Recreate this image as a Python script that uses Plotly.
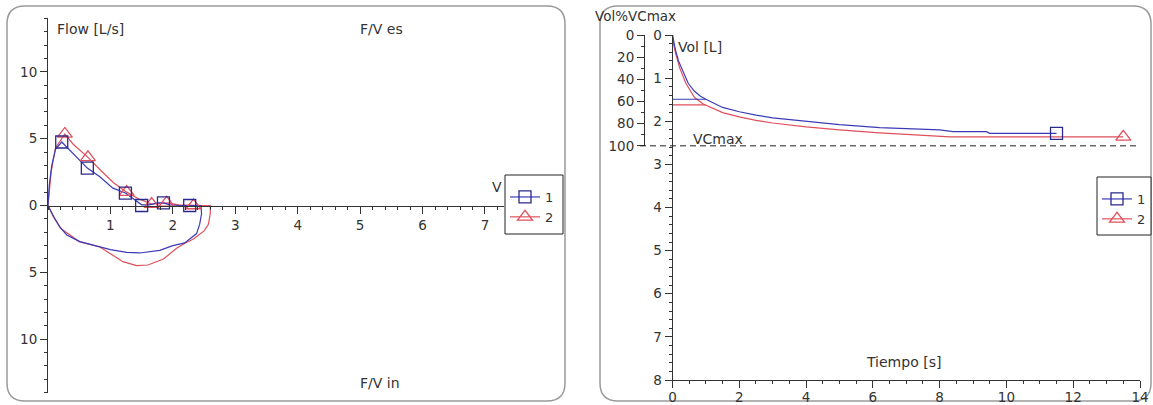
import plotly.graph_objects as go

W, H = 1153, 405

# ---------------- data: left panel (flow / volume loops) ----------------
# series 1 (blue) expiratory + inspiratory loop, volume [L] vs flow [L/s] (inspiration negative)
fv1_vol = [0.0, 0.02, 0.06, 0.12, 0.22, 0.35, 0.51, 0.63, 0.83, 1.04, 1.24, 1.40, 1.50, 1.62, 1.75,
           1.85, 1.95, 2.10, 2.27, 2.45, 2.46, 2.43, 2.38, 2.19, 2.00, 1.79, 1.47, 1.26, 1.00,
           0.83, 0.51, 0.30, 0.19, 0.10, 0.04, 0.0]
fv1_flow = [0.0, 1.5, 3.0, 4.2, 4.75, 4.15, 3.4, 2.8, 2.15, 1.3, 0.93, 0.35, 0.05, 0.05, 0.2,
            0.2, 0.05, 0.0, 0.0, 0.0, -0.6, -1.4, -2.1, -2.8, -3.0, -3.35, -3.55, -3.5, -3.3,
            -3.1, -2.7, -2.2, -1.6, -0.9, -0.4, 0.0]
# series 2 (red)
fv2_vol = [0.0, 0.05, 0.12, 0.27, 0.40, 0.64, 0.85, 1.05, 1.26, 1.45, 1.66, 1.80, 1.90, 2.10,
           2.33, 2.50, 2.60, 2.60, 2.57, 2.50, 2.33, 2.20, 2.06, 1.85, 1.60, 1.42, 1.20, 1.00,
           0.83, 0.50, 0.20, 0.08, 0.0]
fv2_flow = [0.0, 2.5, 4.3, 5.35, 4.6, 3.6, 2.6, 1.7, 1.0, 0.5, 0.1, 0.15, 0.2, 0.05,
            0.0, 0.0, 0.0, -0.6, -1.4, -1.9, -2.5, -2.8, -3.2, -4.0, -4.45, -4.5, -4.2, -3.6,
            -3.1, -2.7, -1.7, -0.8, 0.0]
# marker samples on the curves
fv1_mk_vol = [0.22, 0.63, 1.24, 1.50, 1.85, 2.27]
fv1_mk_flow = [4.75, 2.8, 0.93, 0.0, 0.2, 0.0]
fv2_mk_vol = [0.27, 0.64, 1.26, 1.66, 1.90, 2.33]
fv2_mk_flow = [5.35, 3.6, 1.0, 0.1, 0.2, 0.0]

flow_tickvals = [-10, -5, 0, 5, 10]
flow_ticktext = ["10", "5", "0", "5", "10"]
vol_tickvals = [1, 2, 3, 4, 5, 6, 7]

# ---------------- data: right panel (volume / time) ----------------
vt1_t = [0.0, 0.03, 0.09, 0.18, 0.29, 0.47, 0.65, 0.84, 1.0, 1.5, 2.0, 2.5, 3.0, 4.0, 5.0,
         6.2, 7.0, 8.0, 8.4, 9.4, 9.5, 11.5]
vt1_vol = [0.0, 0.15, 0.35, 0.6, 0.8, 1.12, 1.3, 1.42, 1.49, 1.68, 1.78, 1.86, 1.92, 2.0, 2.08,
           2.15, 2.18, 2.2, 2.24, 2.24, 2.28, 2.28]
vt2_t = [0.0, 0.03, 0.09, 0.22, 0.40, 0.66, 0.92, 1.0, 1.5, 2.0, 2.5, 3.0, 4.0, 5.0, 6.2,
         7.4, 8.3, 13.5]
vt2_vol = [0.0, 0.2, 0.42, 0.77, 1.12, 1.45, 1.6, 1.63, 1.8, 1.9, 1.98, 2.04, 2.13, 2.2, 2.27,
           2.32, 2.36, 2.36]
fev1_t = 1.0
fev1_vals = [1.49, 1.62]
VCMAX = 2.57
pct_tickvals = [0, 20, 40, 60, 80, 100]

BLUE = "#3B3BB8"
BLUE_MK = "#2A2A8C"
RED = "#E0505C"
TXT = "#333333"


def px(x):
    return x / W


def py(y):
    return 1 - y / H


fig = go.Figure()

# left panel lines
fig.add_trace(go.Scatter(x=fv2_vol, y=fv2_flow, mode="lines", line=dict(color=RED, width=1.2),
                         showlegend=False, xaxis="x", yaxis="y"))
fig.add_trace(go.Scatter(x=fv1_vol, y=fv1_flow, mode="lines", line=dict(color=BLUE, width=1.2),
                         showlegend=False, xaxis="x", yaxis="y"))
fig.add_trace(go.Scatter(x=fv2_mk_vol, y=fv2_mk_flow, mode="markers",
                         marker=dict(symbol="triangle-up-open", size=13, color=RED, line=dict(width=1.3)),
                         showlegend=False, xaxis="x", yaxis="y"))
fig.add_trace(go.Scatter(x=fv1_mk_vol, y=fv1_mk_flow, mode="markers",
                         marker=dict(symbol="square-open", size=12, color=BLUE_MK, line=dict(width=1.3)),
                         showlegend=False, xaxis="x", yaxis="y"))
# left legend entries
fig.add_trace(go.Scatter(x=[None], y=[None], mode="lines+markers", name="1", legend="legend",
                         line=dict(color=BLUE, width=1.2),
                         marker=dict(symbol="square-open", size=12, color=BLUE_MK, line=dict(width=1.3)),
                         xaxis="x", yaxis="y"))
fig.add_trace(go.Scatter(x=[None], y=[None], mode="lines+markers", name="2", legend="legend",
                         line=dict(color=RED, width=1.2),
                         marker=dict(symbol="triangle-up-open", size=13, color=RED, line=dict(width=1.3)),
                         xaxis="x", yaxis="y"))

# right panel
fig.add_trace(go.Scatter(x=vt2_t, y=vt2_vol, mode="lines", line=dict(color=RED, width=1.2),
                         showlegend=False, xaxis="x2", yaxis="y2"))
fig.add_trace(go.Scatter(x=vt1_t, y=vt1_vol, mode="lines", line=dict(color=BLUE, width=1.2),
                         showlegend=False, xaxis="x2", yaxis="y2"))
fig.add_trace(go.Scatter(x=[0, fev1_t], y=[fev1_vals[1], fev1_vals[1]], mode="lines",
                         line=dict(color=RED, width=1.2), showlegend=False, xaxis="x2", yaxis="y2"))
fig.add_trace(go.Scatter(x=[0, fev1_t], y=[fev1_vals[0], fev1_vals[0]], mode="lines",
                         line=dict(color=BLUE, width=1.2), showlegend=False, xaxis="x2", yaxis="y2"))
fig.add_trace(go.Scatter(x=[vt2_t[-1]], y=[vt2_vol[-1]], mode="markers",
                         marker=dict(symbol="triangle-up-open", size=13, color=RED, line=dict(width=1.3)),
                         showlegend=False, xaxis="x2", yaxis="y2"))
fig.add_trace(go.Scatter(x=[vt1_t[-1]], y=[vt1_vol[-1]], mode="markers",
                         marker=dict(symbol="square-open", size=12, color=BLUE_MK, line=dict(width=1.3)),
                         showlegend=False, xaxis="x2", yaxis="y2"))
fig.add_trace(go.Scatter(x=[None], y=[None], mode="lines+markers", name="1", legend="legend2",
                         line=dict(color=BLUE, width=1.2),
                         marker=dict(symbol="square-open", size=12, color=BLUE_MK, line=dict(width=1.3)),
                         xaxis="x2", yaxis="y2"))
fig.add_trace(go.Scatter(x=[None], y=[None], mode="lines+markers", name="2", legend="legend2",
                         line=dict(color=RED, width=1.2),
                         marker=dict(symbol="triangle-up-open", size=13, color=RED, line=dict(width=1.3)),
                         xaxis="x2", yaxis="y2"))
# holder for the %VCmax axis
fig.add_trace(go.Scatter(x=[None], y=[None], mode="lines", showlegend=False, xaxis="x2", yaxis="y3"))

axis_common = dict(showline=True, linecolor=TXT, linewidth=1, ticks="outside", tickcolor=TXT,
                   ticklen=7, tickwidth=1, showgrid=False, zeroline=False, automargin=False,
                   tickfont=dict(size=13.5, color=TXT))


def rounded(x0, y0, x1, y1, r):
    def P(x, y):
        return f"{px(x):.5f},{py(y):.5f}"
    return (f"M{P(x0 + r, y0)} L{P(x1 - r, y0)} Q{P(x1, y0)} {P(x1, y0 + r)} "
            f"L{P(x1, y1 - r)} Q{P(x1, y1)} {P(x1 - r, y1)} L{P(x0 + r, y1)} "
            f"Q{P(x0, y1)} {P(x0, y1 - r)} L{P(x0, y0 + r)} Q{P(x0, y0)} {P(x0 + r, y0)} Z")


shapes = [
    dict(type="path", xref="paper", yref="paper", path=rounded(7, 6, 565, 401, 18),
         line=dict(color="#9a9a9a", width=1.5), layer="below"),
    dict(type="path", xref="paper", yref="paper", path=rounded(600, 6, 1151, 401, 18),
         line=dict(color="#9a9a9a", width=1.5), layer="below"),
    dict(type="line", xref="paper", yref="y2", x0=px(640), x1=px(1138), y0=VCMAX, y1=VCMAX,
         line=dict(color="#222222", width=1, dash="6px,4px")),
    # legend frames
    dict(type="rect", xref="paper", yref="paper", x0=px(505), x1=px(563), y0=py(234), y1=py(175),
         line=dict(color="#222222", width=1), fillcolor="white", layer="above"),
    dict(type="rect", xref="paper", yref="paper", x0=px(1097), x1=px(1151), y0=py(235), y1=py(177),
         line=dict(color="#222222", width=1), fillcolor="white", layer="above"),
]


def ann(text, x, y, size=14, xanchor="center"):
    return dict(text=text, x=px(x), y=py(y), xref="paper", yref="paper", showarrow=False,
                xanchor=xanchor, yanchor="middle", font=dict(size=size, color=TXT))


annotations = [
    ann("Flow [L/s]", 90, 29),
    ann("F/V es", 381, 29),
    ann("F/V in", 380, 383),
    ann("V", 504, 187, xanchor="right"),
    ann("Vol%VCmax", 635, 16, 13.5),
    ann("Vol [L]", 700, 47),
    ann("VCmax", 718, 139),
    ann("Tiempo [s]", 903, 362),
]

fig.update_layout(
    width=W, height=H,
    margin=dict(l=0, r=0, t=0, b=0, pad=0),
    paper_bgcolor="white", plot_bgcolor="rgba(0,0,0,0)",
    font=dict(family="DejaVu Sans", size=13, color=TXT),
    xaxis=dict(domain=[px(48), px(503.7)], range=[0, 7.3], anchor="free", position=py(205.5),
               tickmode="array", tickvals=vol_tickvals,
               minor=dict(tickmode="linear", tick0=0, dtick=0.2, ticks="outside", ticklen=3,
                          tickcolor=TXT, showgrid=False),
               **axis_common),
    yaxis=dict(domain=[py(392.7), py(18.3)], range=[-14, 14], anchor="x",
               tickmode="array", tickvals=flow_tickvals, ticktext=flow_ticktext,
               minor=dict(tickmode="linear", tick0=0, dtick=1, ticks="outside", ticklen=3,
                          tickcolor=TXT, showgrid=False),
               **axis_common),
    xaxis2=dict(domain=[px(672.5), px(1140)], range=[0, 14], anchor="y2",
                tickmode="linear", tick0=0, dtick=2, ticklabelstandoff=-2,
                minor=dict(tickmode="linear", tick0=0, dtick=0.5, ticks="outside", ticklen=3,
                           tickcolor=TXT, showgrid=False),
                **axis_common),
    yaxis2=dict(domain=[py(380), py(35)], range=[8, 0], anchor="x2",
                tickmode="linear", tick0=0, dtick=1,
                minor=dict(tickmode="linear", tick0=0, dtick=0.2, ticks="outside", ticklen=3,
                           tickcolor=TXT, showgrid=False),
                **axis_common),
    yaxis3=dict(domain=[py(35 + VCMAX * 43.125), py(35)], range=[100, 0], anchor="free",
                position=px(644), tickmode="array", tickvals=pct_tickvals,
                minor=dict(tickmode="linear", tick0=0, dtick=10, ticks="outside", ticklen=3,
                           tickcolor=TXT, showgrid=False),
                **axis_common),
    legend=dict(x=px(505), y=py(182), xanchor="left", yanchor="top", bgcolor="rgba(0,0,0,0)",
                borderwidth=0, font=dict(size=13, color=TXT),
                tracegroupgap=0, itemwidth=30),
    legend2=dict(x=px(1097), y=py(184), xanchor="left", yanchor="top", bgcolor="rgba(0,0,0,0)",
                 borderwidth=0, font=dict(size=13, color=TXT),
                 tracegroupgap=0, itemwidth=30),
    shapes=shapes,
    annotations=annotations,
)

fig.write_html("out.html", config={"displayModeBar": False},
               post_script="document.body.style.margin='0';")
